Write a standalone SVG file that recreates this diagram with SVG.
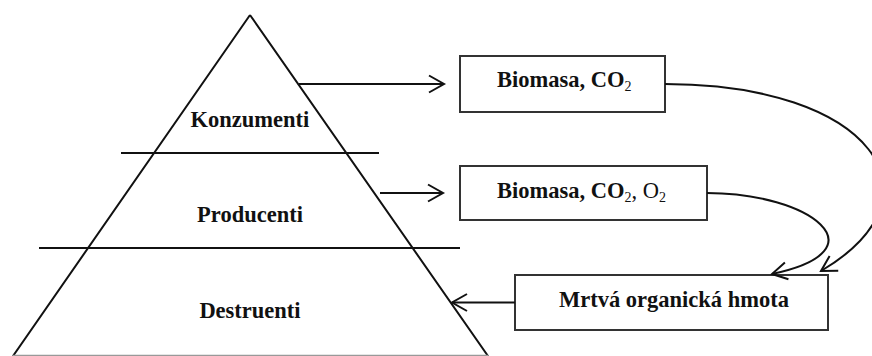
<svg xmlns="http://www.w3.org/2000/svg" width="872" height="356" viewBox="0 0 872 356">
<style>
.ln{fill:none;stroke:#111;stroke-width:2}
.box{fill:#fff;stroke:#333;stroke-width:2}
.t{font-family:"Liberation Serif","Times New Roman",serif;font-size:22.5px;font-weight:bold;fill:#111}
.r{font-weight:normal}
</style>
<defs>
<marker id="ah" markerUnits="userSpaceOnUse" markerWidth="24" markerHeight="24" refX="0" refY="0" viewBox="-18 -12 24 24" orient="auto" overflow="visible">
<path d="M-15,-8.5 L0,0 L-15,8.5" fill="none" stroke="#111" stroke-width="2"/>
</marker>
</defs>
<g id="pyramid">
<path class="ln" d="M250,15 L13,356 M250,15 L488,356"/>
<line x1="13" y1="355.5" x2="488" y2="355.5" stroke="#999" stroke-width="1.5"/>
<line class="ln" x1="121" y1="153" x2="379" y2="153"/>
<line class="ln" x1="39" y1="248" x2="460" y2="248"/>
<text class="t" x="250" y="127" text-anchor="middle">Konzumenti</text>
<text class="t" x="250" y="222" text-anchor="middle">Producenti</text>
<text class="t" x="250" y="318" text-anchor="middle">Destruenti</text>
</g>
<g id="box1">
<rect class="box" x="460" y="56" width="205" height="56"/>
<text class="t" x="497" y="87">Biomasa, CO<tspan class="r" font-size="14" dy="4">2</tspan></text>
</g>
<g id="box2">
<rect class="box" x="460" y="166" width="247" height="54"/>
<text class="t" x="497" y="198">Biomasa, CO<tspan class="r" font-size="14" dy="4">2</tspan><tspan class="r" dy="-4">, O</tspan><tspan class="r" font-size="14" dy="4">2</tspan></text>
</g>
<g id="box3">
<rect class="box" x="515" y="275" width="313" height="55"/>
<text class="t" x="674" y="307" text-anchor="middle">Mrtvá organická hmota</text>
</g>
<g id="connectors">
<path class="ln" d="M299,84 L444,84" marker-end="url(#ah)"/>
<path class="ln" d="M380,193 L443,193" marker-end="url(#ah)"/>
<path class="ln" d="M515,302.5 L452,302.5" marker-end="url(#ah)"/>
<path class="ln" d="M665,84 C870,84 950,195 821,271" marker-end="url(#ah)"/>
<path class="ln" d="M707,193 C810,193 885,250 772,274" marker-end="url(#ah)"/>
</g>
</svg>
